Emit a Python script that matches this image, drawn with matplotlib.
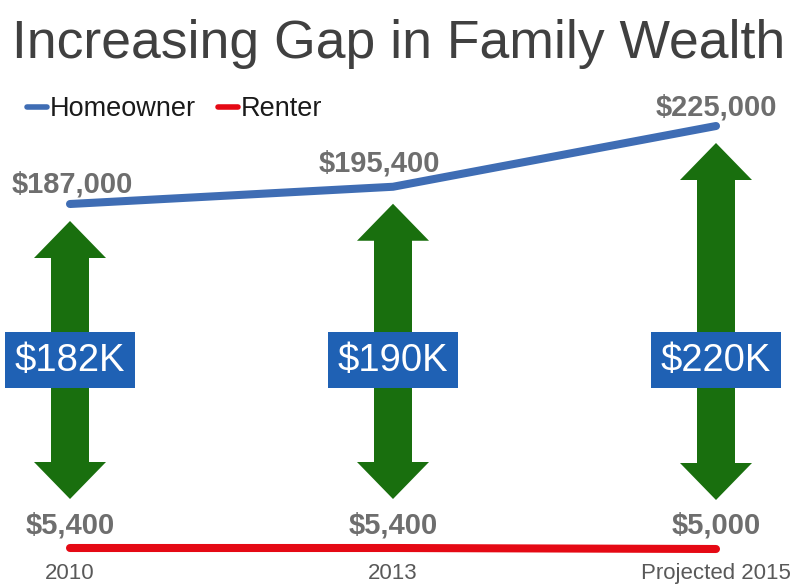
import matplotlib
matplotlib.use("Agg")
import matplotlib.pyplot as plt
from matplotlib.lines import Line2D
from matplotlib.patches import Polygon, Rectangle

plt.rcParams['font.family'] = ['Liberation Sans', 'DejaVu Sans']

# ---- data ----
categories = ["2010", "2013", "Projected 2015"]
homeowner = [187000, 195400, 225000]
renter = [5400, 5400, 5000]
series_names = ["Homeowner", "Renter"]

# ---- styles ----
BLUE = "#3F6DB4"
RED = "#E50914"
GREEN = "#196F0E"
BOX = "#1F61B4"
VAL_GRAY = "#6E6E6E"
TICK_GRAY = "#595959"
TITLE_GRAY = "#404040"

W, H = 805, 586
fig = plt.figure(figsize=(W / 100, H / 100), dpi=100)

# overlay in pixel units (top-left origin) for arrows and gap boxes
ov = fig.add_axes([0, 0, 1, 1], zorder=0)
ov.set_xlim(0, W)
ov.set_ylim(H, 0)
ov.set_axis_off()

# main axes: homeowner values
ax_bottom_px = 559
top_val = 286385
px_per_val = 78 / 38000
bottom_val = 187000 - (ax_bottom_px - 204) / px_per_val
ax = fig.add_axes([0, (H - ax_bottom_px) / H, 1, ax_bottom_px / H], zorder=1)
ax.patch.set_alpha(0)
x = list(range(len(categories)))
ax.set_xlim(-70 / 323, (W - 70) / 323)
ax.set_ylim(bottom_val, top_val)
for s in ax.spines.values():
    s.set_visible(False)
ax.set_yticks([])
ax.set_xticks(x, categories)
ax.tick_params(axis="x", length=0, pad=3, labelsize=16, labelcolor=TICK_GRAY)

# twin axes: renter values (separate scale, 400 per pixel)
ax2 = ax.twinx()
ax2.set_zorder(2)
ax2.patch.set_alpha(0)
r_bottom = 5400 - (ax_bottom_px - 548) * 400
ax2.set_ylim(r_bottom, r_bottom + ax_bottom_px * 400)
ax2.set_axis_off()

ax.plot(x, homeowner, color=BLUE, lw=5.8, solid_capstyle="round", zorder=3)
ax2.plot(x, renter, color=RED, lw=5.8, solid_capstyle="round", zorder=3)

home_offsets = [(2, 12), (-14, 15), (0, 11)]
for xi, v, off in zip(x, homeowner, home_offsets):
    ax.annotate(f"${v:,}", (xi, v), xytext=off, textcoords="offset pixels",
                ha="center", va="baseline", fontsize=21, fontweight="bold",
                color=VAL_GRAY)
for xi, v in zip(x, renter):
    ax2.annotate(f"${v:,}", (xi, v), xytext=(0, 15), textcoords="offset pixels",
                 ha="center", va="baseline", fontsize=21, fontweight="bold",
                 color=VAL_GRAY)


def to_px(axis, xv, yv):
    dx, dy = axis.transData.transform((xv, yv))
    return dx, H - dy


# double-headed arrows and gap boxes
shaft, head_w, head_l = 19, 36, 37
box_w, box_h, box_y = 130, 56, 360
for xi, hv, rv in zip(x, homeowner, renter):
    cx, top = to_px(ax, xi, hv)
    _, bot = to_px(ax2, xi, rv)
    top += 17
    bot -= 49
    pts = [(cx, top), (cx + head_w, top + head_l), (cx + shaft, top + head_l),
           (cx + shaft, bot - head_l), (cx + head_w, bot - head_l), (cx, bot),
           (cx - head_w, bot - head_l), (cx - shaft, bot - head_l),
           (cx - shaft, top + head_l), (cx - head_w, top + head_l)]
    ov.add_patch(Polygon(pts, closed=True, facecolor=GREEN, edgecolor="none", zorder=1))
    ov.add_patch(Rectangle((cx - box_w / 2, box_y - box_h / 2), box_w, box_h,
                           facecolor=BOX, edgecolor="none", zorder=2))
    gap = hv - rv
    ov.text(cx, box_y + 1, f"${gap / 1000:.0f}K", ha="center", va="center",
            fontsize=27.5, color="white", zorder=3)

# legend
handles = [Line2D([], [], color=BLUE, lw=4, solid_capstyle="round"),
           Line2D([], [], color=RED, lw=4, solid_capstyle="round")]
fig.legend(handles, series_names, loc="center left",
           bbox_to_anchor=(27 / W, (H - 109) / H), ncol=2, frameon=False,
           fontsize=19.5, handlelength=0.75, handletextpad=0.1, columnspacing=0.8,
           borderpad=0, borderaxespad=0, labelcolor="#1a1a1a")

# title
fig.text(399 / W, (H - 58) / H, "Increasing Gap in Family Wealth",
         ha="center", va="baseline", fontsize=38.5, color=TITLE_GRAY)

fig.savefig("out.png", dpi=100, facecolor="white")
